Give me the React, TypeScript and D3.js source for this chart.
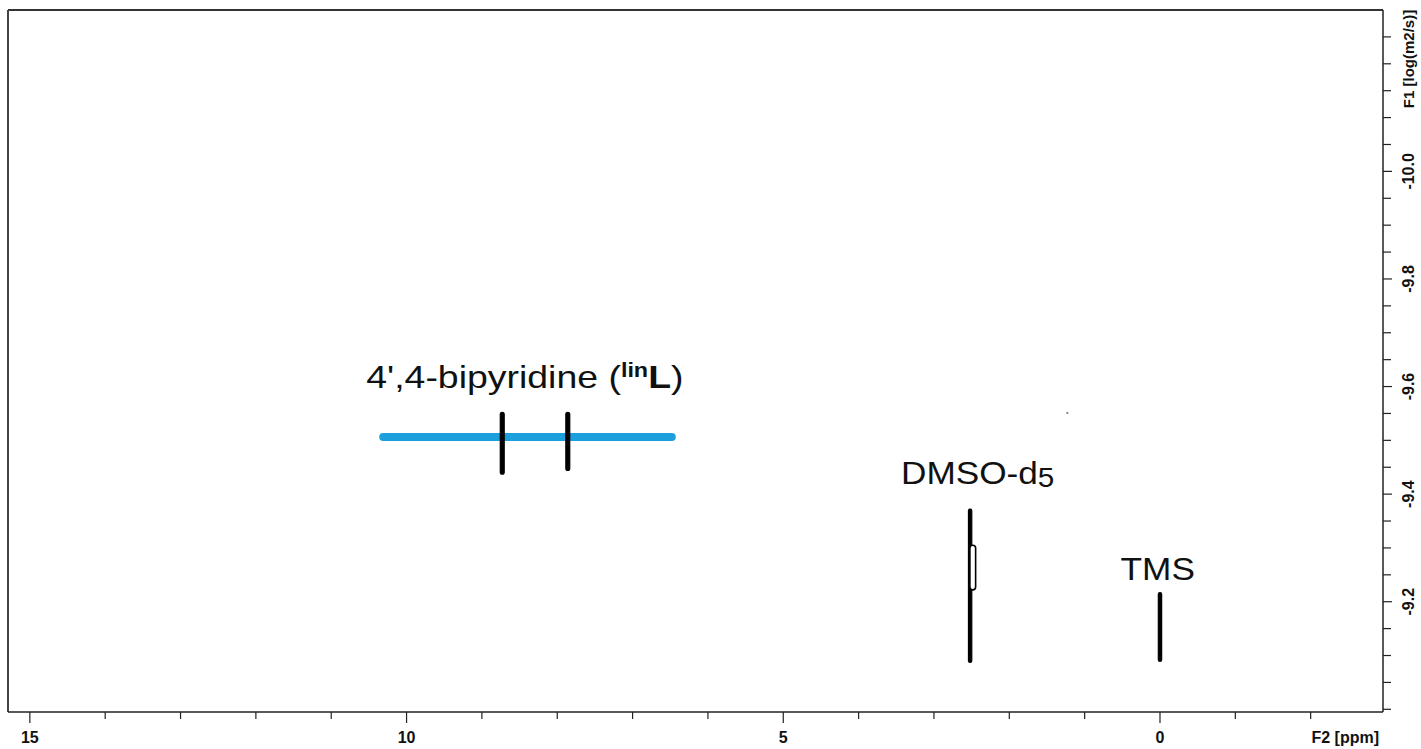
import { useMemo } from "react";
import * as d3 from "d3";

const WIDTH = 1421;
const HEIGHT = 749;
const PLOT = { left: 8, top: 10, right: 1383, bottom: 712 };

// F2 axis (ppm, reversed) and F1 axis (log D)
const F2_DOMAIN = [15.29, -2.96];
const F1_DOMAIN = [-10.3, -8.995];
const F2_MAJOR = [15, 10, 5, 0];
const F2_MINOR = [14, 13, 12, 11, 9, 8, 7, 6, 4, 3, 2, 1, -1, -2];
const F1_MAJOR = [-10.0, -9.8, -9.6, -9.4, -9.2];
const F1_MINOR = [-10.25, -10.2, -10.15, -10.1, -10.05, -9.95, -9.9, -9.85, -9.75, -9.7, -9.65, -9.55, -9.5, -9.45, -9.35, -9.3, -9.25, -9.15, -9.1, -9.05, -9.0];

// DOSY contours: centre shift, half width (ppm), log D range
const contourPpm = [8.73, 7.86, 2.52, 2.485, 0.0];
const contourHalfWidth = [0.026, 0.026, 0.022, 0.038, 0.022];
const contourLogDTop = [-9.552, -9.552, -9.372, -9.305, -9.217];
const contourLogDBottom = [-9.437, -9.444, -9.087, -9.222, -9.089];
const contourInner = [false, false, false, true, false];

// diffusion band of the ligand
const bandPpm = [10.31, 6.48];
const bandLogD = -9.506;

// stray noise point
const noisePpm = 1.23;
const noiseLogD = -9.551;

const labelPpm = [8.43, 2.42, 0.03];
const labelLogD = [-9.597, -9.418, -9.24];

const FONT = "'Liberation Sans', Arial, sans-serif";

export default function App() {
  const x = useMemo(() => d3.scaleLinear().domain(F2_DOMAIN).range([PLOT.left, PLOT.right]), []);
  const y = useMemo(() => d3.scaleLinear().domain(F1_DOMAIN).range([PLOT.top, PLOT.bottom]), []);

  const contours = contourPpm.map((ppm, i) => {
    const x0 = x(ppm + contourHalfWidth[i]);
    const x1 = x(ppm - contourHalfWidth[i]);
    const y0 = y(contourLogDTop[i]);
    const y1 = y(contourLogDBottom[i]);
    return { x0, x1, y0, y1, inner: contourInner[i] };
  });

  const bandLine = d3.line<number>().x((p) => x(p)).y(() => y(bandLogD))(bandPpm) || "";

  const textStyle = { fontFamily: FONT, fontSize: 32, fill: "#111" };

  return (
    <svg width={WIDTH} height={HEIGHT} style={{ position: "absolute", left: 0, top: 0, background: "#fff" }}>
      <rect x={0} y={0} width={WIDTH} height={HEIGHT} fill="#fff" />

      {/* frame */}
      <line x1={PLOT.left} x2={PLOT.right} y1={PLOT.top} y2={PLOT.top} stroke="#333" strokeWidth={2} />
      <line x1={PLOT.left} x2={PLOT.left} y1={PLOT.top} y2={PLOT.bottom} stroke="#444" strokeWidth={2} />
      <line x1={PLOT.left} x2={PLOT.right} y1={PLOT.bottom} y2={PLOT.bottom} stroke="#222" strokeWidth={1.5} />
      <line x1={PLOT.right} x2={PLOT.right} y1={PLOT.top} y2={PLOT.bottom} stroke="#222" strokeWidth={1.5} />

      {/* F2 ticks */}
      {F2_MAJOR.map((t) => (
        <g key={`f2-${t}`}>
          <line x1={x(t)} x2={x(t)} y1={PLOT.bottom} y2={PLOT.bottom + 11} stroke="#222" strokeWidth={1.2} />
          <text x={x(t)} y={743} textAnchor="middle" fontFamily={FONT} fontWeight="bold" fontSize={16} fill="#111">
            {t}
          </text>
        </g>
      ))}
      {F2_MINOR.map((t) => (
        <line key={`f2m-${t}`} x1={x(t)} x2={x(t)} y1={PLOT.bottom} y2={PLOT.bottom + 7} stroke="#222" strokeWidth={1.2} />
      ))}
      <text x={1379} y={743} textAnchor="end" fontFamily={FONT} fontWeight="bold" fontSize={16} fill="#111">
        F2 [ppm]
      </text>

      {/* F1 ticks */}
      {F1_MAJOR.map((t) => (
        <g key={`f1-${t}`}>
          <line x1={PLOT.right} x2={PLOT.right + 9} y1={y(t)} y2={y(t)} stroke="#222" strokeWidth={1.2} />
          <text
            transform={`translate(1414 ${y(t)}) rotate(-90)`}
            textAnchor="middle"
            fontFamily={FONT}
            fontWeight="bold"
            fontSize={16}
            fill="#111"
          >
            {t.toFixed(1)}
          </text>
        </g>
      ))}
      {F1_MINOR.map((t) => (
        <line key={`f1m-${t}`} x1={PLOT.right} x2={PLOT.right + 8} y1={y(t)} y2={y(t)} stroke="#222" strokeWidth={1.2} />
      ))}
      <text
        transform={`translate(1414 59) rotate(-90)`}
        textAnchor="middle"
        fontFamily={FONT}
        fontWeight="bold"
        fontSize={15}
        fill="#111"
      >
        F1 [log(m2/s)]
      </text>

      {/* ligand band */}
      <path d={bandLine} stroke="#1c9fdd" strokeWidth={8} strokeLinecap="round" fill="none" />

      {/* contours */}
      {contours.map((c, i) => (
        <rect
          key={`c-${i}`}
          x={c.x0}
          y={c.y0}
          width={c.x1 - c.x0}
          height={c.y1 - c.y0}
          rx={(c.x1 - c.x0) / 2}
          fill={c.inner ? "#fff" : "#000"}
          stroke="#000"
          strokeWidth={c.inner ? 1.6 : 1.2}
        />
      ))}
      <rect x={x(noisePpm) - 1} y={y(noiseLogD) - 1} width={2} height={2} fill="#888" />

      {/* annotations */}
      <g transform={`translate(${x(labelPpm[0])} ${y(labelLogD[0])}) scale(1.17 1)`}>
        <text x={0} y={0} textAnchor="middle" {...textStyle}>
          4',4-bipyridine (
          <tspan fontWeight="bold" fontSize={20} dy={-11}>lin</tspan>
          <tspan fontWeight="bold" dy={11}>L</tspan>)
        </text>
      </g>
      <g transform={`translate(${x(labelPpm[1])} ${y(labelLogD[1])}) scale(1.1 1)`}>
        <text x={0} y={0} textAnchor="middle" {...textStyle}>
          DMSO-d
          <tspan fontSize={27} dy={3}>5</tspan>
        </text>
      </g>
      <g transform={`translate(${x(labelPpm[2])} ${y(labelLogD[2])}) scale(1.1 1)`}>
        <text x={0} y={0} textAnchor="middle" {...textStyle}>
          TMS
        </text>
      </g>
    </svg>
  );
}
